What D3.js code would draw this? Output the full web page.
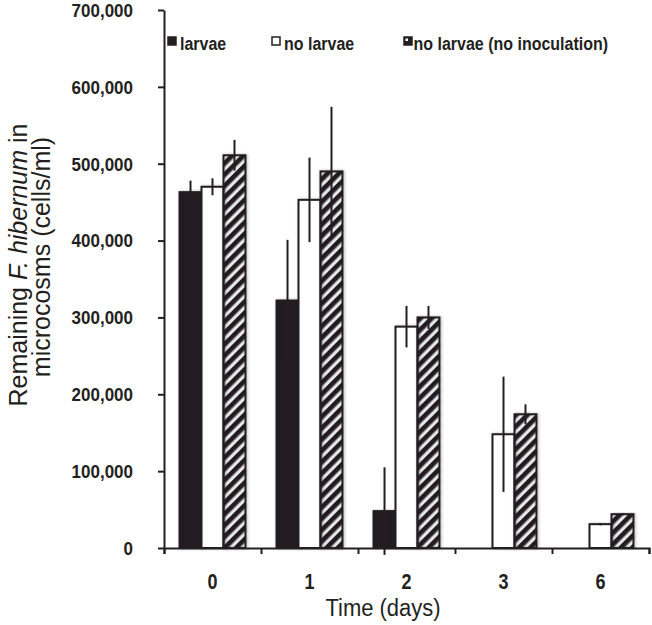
<!DOCTYPE html>
<html>
<head>
<meta charset="utf-8">
<script src="https://cdn.jsdelivr.net/npm/d3@7"></script>
<style>
  body { margin: 0; background: #fff; }
  text { font-family: "Liberation Sans", Arial, sans-serif; fill: #231f20; }
</style>
</head>
<body>
<div id="chart"></div>
<script>
var days = ["0", "1", "2", "3", "6"];
var series = ["larvae", "no larvae", "no larvae (no inoculation)"];
var larvae = [463000, 322000, 48000, 0, 0];
var larvaeErr = [15000, 79000, 57000, 0, 0];
var noLarvae = [470000, 453000, 288000, 148000, 31000];
var noLarvaeErr = [11000, 55000, 27000, 75000, 1500];
var noInoc = [511000, 490000, 300000, 174000, 44000];
var noInocErr = [20000, 84000, 15000, 13000, 1500];
var yTicks = [0, 100000, 200000, 300000, 400000, 500000, 600000, 700000];

var width = 652, height = 625;
var margin = {top: 10, right: 3, bottom: 77, left: 164};
var ink = "#231f20";

// text in the original looks a bit taller than wide
function stretch(sel, k) {
  sel.each(function() {
    var t = d3.select(this);
    var tx = +t.attr("x") || 0, ty = +t.attr("y") || 0;
    t.attr("x", 0).attr("y", 0)
      .attr("transform", "translate(" + tx + "," + ty + ") scale(1," + k + ")");
  });
}

var svg = d3.select("#chart")
  .append("svg")
    .attr("width", width)
    .attr("height", height);

var defs = svg.append("defs");
defs.append("pattern")
    .attr("id", "hatch")
    .attr("patternUnits", "userSpaceOnUse")
    .attr("width", 8)
    .attr("height", 8)
    .attr("patternTransform", "rotate(45)")
  .append("rect")
    .attr("width", 4.6)
    .attr("height", 8)
    .attr("fill", ink);

var shadow = defs.append("filter")
    .attr("id", "shadow")
    .attr("x", "-30%").attr("y", "-5%")
    .attr("width", "160%").attr("height", "110%");
shadow.append("feDropShadow")
    .attr("dx", 1).attr("dy", 0)
    .attr("stdDeviation", 1.6)
    .attr("flood-color", "#000")
    .attr("flood-opacity", 0.3);

var x0 = d3.scaleBand()
  .domain(days)
  .range([margin.left, width - margin.right])
  .paddingInner(0.32)
  .paddingOuter(0.16);

var x1 = d3.scaleBand()
  .domain(series)
  .range([0, x0.bandwidth()]);

var xb = d3.scaleLinear()
  .domain([0, days.length])
  .range([margin.left, width - margin.right]);

var y = d3.scaleLinear()
  .domain([0, 700000])
  .range([height - margin.bottom, margin.top]);

var table = days.map(function(d, i) {
  return [
    {day: d, key: series[0], v: larvae[i], e: larvaeErr[i], fill: ink},
    {day: d, key: series[1], v: noLarvae[i], e: noLarvaeErr[i], fill: "#fff"},
    {day: d, key: series[2], v: noInoc[i], e: noInocErr[i], fill: "url(#hatch)"}
  ];
});
var bars = d3.merge(table).filter(function(d) { return d.v > 0; });

// bars
svg.append("g")
  .selectAll("rect")
  .data(bars)
  .enter().append("rect")
    .attr("x", function(d) { return x0(d.day) + x1(d.key); })
    .attr("y", function(d) { return y(d.v); })
    .attr("width", x1.bandwidth())
    .attr("height", function(d) { return y(0) - y(d.v); })
    .attr("fill", function(d) { return d.fill; })
    .attr("stroke", ink)
    .attr("stroke-width", 2)
    .attr("filter", "url(#shadow)");

// error bars
svg.append("g")
  .selectAll("line")
  .data(bars)
  .enter().append("line")
    .attr("x1", function(d) { return x0(d.day) + x1(d.key) + x1.bandwidth() / 2; })
    .attr("x2", function(d) { return x0(d.day) + x1(d.key) + x1.bandwidth() / 2; })
    .attr("y1", function(d) { return y(d.v - d.e); })
    .attr("y2", function(d) { return y(d.v + d.e); })
    .attr("stroke", ink)
    .attr("stroke-width", 2);

// y axis
var yAxis = svg.append("g")
  .attr("transform", "translate(" + margin.left + ",0)")
  .call(d3.axisLeft(y)
    .tickValues(yTicks)
    .tickFormat(d3.format(","))
    .tickSize(6)
    .tickSizeOuter(0)
    .tickPadding(25));
yAxis.selectAll("text")
  .attr("font-size", 17)
  .attr("font-weight", "bold")
  .attr("fill", ink)
  .attr("dy", 6)
  .call(stretch, 1.05);

// x axis: boundary ticks + category labels
svg.append("g")
  .attr("transform", "translate(0," + y(0) + ")")
  .call(d3.axisBottom(xb)
    .ticks(days.length)
    .tickFormat("")
    .tickSize(6)
    .tickSizeOuter(6));
svg.append("g")
  .attr("transform", "translate(0," + y(0) + ")")
  .call(d3.axisBottom(x0).tickSize(0).tickPadding(0))
  .call(function(g) { g.select(".domain").remove(); })
  .selectAll("text")
    .attr("font-size", 18)
    .attr("font-weight", "bold")
    .attr("fill", ink)
    .attr("y", 41)
    .attr("dy", 0)
    .call(stretch, 1.2);

svg.selectAll(".domain, .tick line")
  .attr("stroke", ink)
  .attr("stroke-width", 2);

// axis titles
svg.append("text")
  .attr("x", 383)
  .attr("y", 616)
  .attr("text-anchor", "middle")
  .attr("font-size", 22)
  .text("Time (days)")
  .call(stretch, 1.12);

var yt = svg.append("text")
  .attr("transform", "translate(27,265) rotate(-90)")
  .attr("text-anchor", "middle")
  .attr("font-size", 25);
yt.append("tspan").text("Remaining ");
yt.append("tspan").attr("font-style", "italic").text("F. hibernum");
yt.append("tspan").text(" in");

svg.append("text")
  .attr("transform", "translate(50,257) rotate(-90)")
  .attr("text-anchor", "middle")
  .attr("font-size", 25)
  .text("microcosms (cells/ml)");

// legend
var legendX = [168, 272, 404];
var lg = svg.append("g")
  .selectAll("g")
  .data(series)
  .enter().append("g")
    .attr("transform", function(d, i) { return "translate(" + legendX[i] + ",37)"; });
lg.append("rect")
  .attr("width", 8)
  .attr("height", 8)
  .attr("fill", function(d, i) { return i === 1 ? "#fff" : ink; })
  .attr("stroke", ink)
  .attr("stroke-width", 1.5);
lg.filter(function(d, i) { return i === 2; })
  .append("rect")
  .attr("x", 1.5).attr("y", 1.5)
  .attr("width", 2.5).attr("height", 2.5)
  .attr("fill", "#fff");
lg.append("text")
  .attr("x", function(d, i) { return i === 2 ? 9.5 : 12; })
  .attr("y", 13)
  .attr("font-size", 16)
  .attr("font-weight", "bold")
  .text(function(d) { return d; })
  .call(stretch, 1.18);
</script>
</body>
</html>
